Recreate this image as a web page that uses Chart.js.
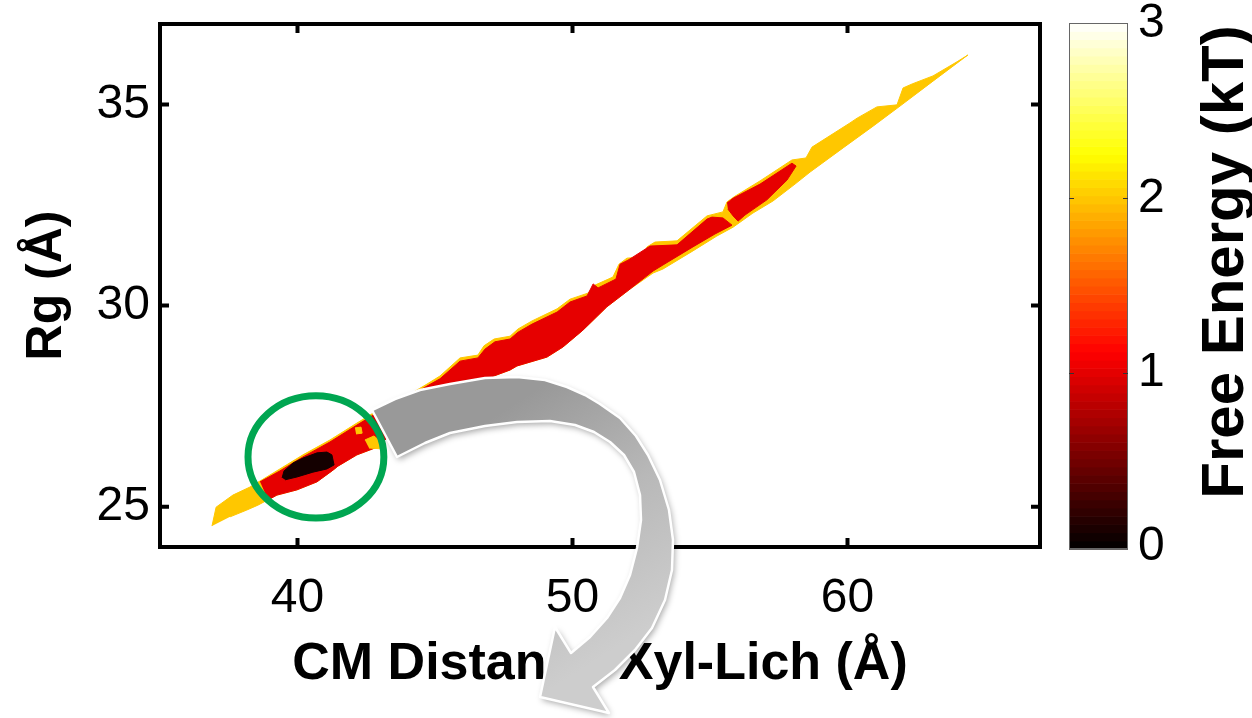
<!DOCTYPE html>
<html>
<head>
<meta charset="utf-8">
<script src="https://cdn.jsdelivr.net/npm/chart.js@4.4.1/dist/chart.umd.min.js"></script>
<style>
  html, body { margin: 0; padding: 0; background: #fff; }
  #wrap { width: 1252px; height: 718px; }
</style>
</head>
<body>
<div id="wrap"><canvas id="fesChart" width="1252" height="718"></canvas></div>
<script>
// axis ticks
const xTicks = [40, 50, 60];
const yTicks = [25, 30, 35];
const energyTicks = [0, 1, 2, 3];

// contour regions, [CM distance, Rg] pairs
// ~2 kT level (outer band)
const band2kT = [
  [36.89, 24.52], [37.04, 24.99], [37.65, 25.29], [38.27, 25.49], [38.71, 25.67],
  [39.36, 25.94], [40.20, 26.29], [41.18, 26.66], [42.16, 27.08], [42.71, 27.31],
  [43.73, 27.65], [44.71, 28.05], [45.18, 28.25], [45.91, 28.70], [46.56, 28.77],
  [46.78, 29.00], [47.15, 29.17], [47.73, 29.24], [48.02, 29.42], [48.53, 29.62],
  [49.44, 29.92], [49.91, 30.16], [50.56, 30.31], [50.82, 30.51], [51.47, 30.71],
  [51.69, 31.03], [51.98, 31.18], [52.56, 31.21], [52.71, 31.46], [53.00, 31.58],
  [53.80, 31.61], [54.89, 32.23], [55.47, 32.33], [55.62, 32.58], [55.91, 32.72],
  [56.82, 33.10], [57.98, 33.62], [58.49, 33.67], [58.71, 33.94], [60.09, 34.54],
  [60.35, 34.66], [61.07, 34.94], [61.80, 34.99], [62.02, 35.41], [62.35, 35.51],
  [63.11, 35.71], [63.98, 36.06], [64.38, 36.23],
  [63.11, 35.58], [61.91, 34.96], [60.93, 34.46], [59.84, 33.92], [58.64, 33.32],
  [58.09, 33.02], [57.29, 32.60], [56.56, 32.30], [55.84, 31.95], [55.25, 31.73],
  [54.38, 31.36], [53.29, 30.91], [52.93, 30.81], [52.09, 30.41], [51.25, 29.97],
  [50.38, 29.39], [49.65, 28.97], [49.07, 28.72], [47.98, 28.50], [47.73, 28.40],
  [46.27, 28.03], [45.18, 27.65], [43.73, 27.03], [42.93, 26.49], [42.16, 26.29],
  [41.47, 26.01], [41.29, 25.91], [40.71, 25.62], [39.98, 25.42], [39.25, 25.29],
  [38.56, 25.04], [38.16, 24.92], [37.55, 24.75]
];
// ~1 kT level, lower and upper pieces
const band1kT = [
  [38.64, 25.62], [39.36, 25.89], [40.20, 26.24], [41.18, 26.61], [42.16, 27.03],
  [42.71, 27.26], [43.73, 27.60], [44.71, 28.00], [45.18, 28.18], [45.91, 28.62],
  [46.56, 28.70], [46.82, 28.92], [47.18, 29.10], [47.73, 29.17], [48.02, 29.34],
  [48.53, 29.54], [49.44, 29.84], [49.91, 30.09], [50.53, 30.24], [50.75, 30.54],
  [50.93, 30.44], [51.58, 30.66], [51.73, 31.03], [52.02, 31.13], [52.82, 31.48],
  [53.80, 31.51], [54.89, 32.15], [55.07, 32.20], [55.47, 32.18], [55.80, 32.00],
  [55.18, 31.78], [54.38, 31.46], [53.29, 31.01], [52.93, 30.86], [52.09, 30.41],
  [51.25, 29.97], [50.38, 29.39], [49.65, 28.97], [49.07, 28.72], [47.98, 28.50],
  [47.73, 28.40], [46.27, 28.03], [45.18, 27.65], [43.73, 27.03], [42.93, 26.49],
  [42.16, 26.29], [41.47, 26.01], [41.29, 25.91], [40.71, 25.62], [39.98, 25.42],
  [39.25, 25.29], [38.93, 25.17]
];
const band1kTUpper = [
  [55.62, 32.55], [55.84, 32.67], [56.82, 33.02], [57.98, 33.54], [58.13, 33.47],
  [57.80, 33.12], [57.07, 32.63], [56.27, 32.25], [56.02, 32.10], [55.84, 32.23],
  [55.65, 32.40]
];
// small 2 kT islands inside the 1 kT band
const spot2kTa = [[42.09, 26.96], [42.31, 26.98], [42.35, 26.83], [42.13, 26.81]];
const spot2kTb = [[42.45, 26.66], [42.78, 26.76], [43.00, 26.63], [43.04, 26.44], [42.60, 26.46]];
// minimum (~0 kT)
const basin0kT = [
  [39.44, 25.72], [39.51, 25.89], [39.84, 26.09], [40.20, 26.21], [40.71, 26.34],
  [41.07, 26.36], [41.25, 26.29], [41.33, 26.04], [41.07, 25.94], [40.56, 25.86],
  [39.98, 25.74], [39.55, 25.67]
];

// highlighted basin (data units)
const basinMark = { x: 40.67, y: 26.24, rx: 2.47, ry: 1.52 };

const FONT = "'Liberation Sans', Arial, Helvetica, sans-serif";
Chart.defaults.font.family = FONT;
Chart.defaults.color = '#000';

function region(label, pts, color, order) {
  return {
    label: label,
    data: pts.map(p => ({ x: p[0], y: p[1] })),
    showLine: true,
    fill: 'shape',
    backgroundColor: color,
    borderColor: color,
    borderWidth: 1,
    pointRadius: 0,
    tension: 0,
    order: order
  };
}

// matlab "hot" colormap
function hot(t) {
  const r = Math.min(1, t / 0.375);
  const g = Math.min(1, Math.max(0, (t - 0.375) / 0.375));
  const b = Math.min(1, Math.max(0, (t - 0.75) / 0.25));
  return `rgb(${Math.round(r * 255)},${Math.round(g * 255)},${Math.round(b * 255)})`;
}

const decor = {
  id: 'decor',
  afterDraw(chart) {
    const ctx = chart.ctx;
    const { left, right, top, bottom } = chart.chartArea;
    const xs = chart.scales.x, ys = chart.scales.y, cb = chart.scales.cb;
    ctx.save();

    // box + inward ticks
    ctx.strokeStyle = '#000';
    ctx.lineWidth = 4;
    ctx.strokeRect(left, top, right - left, bottom - top);
    ctx.beginPath();
    xTicks.forEach(v => {
      const px = xs.getPixelForValue(v);
      ctx.moveTo(px, bottom); ctx.lineTo(px, bottom - 9);
      ctx.moveTo(px, top); ctx.lineTo(px, top + 9);
    });
    yTicks.forEach(v => {
      const py = ys.getPixelForValue(v);
      ctx.moveTo(left, py); ctx.lineTo(left + 9, py);
      ctx.moveTo(right, py); ctx.lineTo(right - 9, py);
    });
    ctx.stroke();

    // colorbar
    const cbL = right + 29, cbR = right + 88;
    const cbTop = cb.getPixelForValue(3) - 1, cbBot = cb.getPixelForValue(0) + 2;
    const n = 64, h = (cbBot - cbTop) / n;
    for (let i = 0; i < n; i++) {
      ctx.fillStyle = hot((i + 0.5) / n);
      ctx.fillRect(cbL, cbBot - (i + 1) * h, cbR - cbL, h + 0.6);
    }
    ctx.lineWidth = 1;
    ctx.strokeStyle = '#666';
    ctx.strokeRect(cbL + 0.5, cbTop + 0.5, cbR - cbL - 1, cbBot - cbTop - 1);
    ctx.strokeStyle = '#333';
    ctx.beginPath();
    [1, 2].forEach(v => {
      const py = Math.round(cb.getPixelForValue(v)) + 0.5;
      ctx.moveTo(cbL, py); ctx.lineTo(cbL + 5, py);
      ctx.moveTo(cbR, py); ctx.lineTo(cbR - 5, py);
    });
    ctx.stroke();

    // colorbar title
    ctx.save();
    ctx.translate(1243, (cbTop + cbBot) / 2 - 24);
    ctx.rotate(-Math.PI / 2);
    ctx.font = `bold 60px ${FONT}`;
    ctx.fillStyle = '#000';
    ctx.textAlign = 'center';
    ctx.textBaseline = 'alphabetic';
    ctx.fillText('Free Energy (kT)', 0, 0);
    ctx.restore();

    // green ring around the minimum
    const cx = xs.getPixelForValue(basinMark.x), cy = ys.getPixelForValue(basinMark.y);
    const rx = xs.getPixelForValue(basinMark.x + basinMark.rx) - cx;
    const ry = cy - ys.getPixelForValue(basinMark.y + basinMark.ry);
    ctx.beginPath();
    ctx.ellipse(cx, cy, rx, ry, 0, 0, Math.PI * 2);
    ctx.lineWidth = 7;
    ctx.strokeStyle = '#00A651';
    ctx.stroke();

    // curved callout arrow
    const outer = [[372,410],[395,399],[420,390],[450,384],[485,378],[517,377],[545,380],[567,387],
      [585,395],[600,404],[620,418],[636,436],[648,455],[660,480],[669,510],[673,540],[672,570],
      [665,600],[652,628],[635,650],[615,670],[593,687]];
    const head = [[609,713],[540,697],[555,627]];
    const inner = [[571,653],[590,637],[607,618],[620,598],[630,575],[637,548],[641,520],[640,495],
      [634,472],[624,455],[610,442],[594,432],[575,425],[550,421],[517,422],[485,426],[450,433],
      [425,443],[397,457]];
    ctx.beginPath();
    ctx.moveTo(outer[0][0], outer[0][1]);
    outer.slice(1).forEach(p => ctx.lineTo(p[0], p[1]));
    head.forEach(p => ctx.lineTo(p[0], p[1]));
    inner.forEach(p => ctx.lineTo(p[0], p[1]));
    ctx.closePath();
    const grad = ctx.createLinearGradient(520, 400, 660, 620);
    grad.addColorStop(0, '#999999');
    grad.addColorStop(0.5, '#b8b8b8');
    grad.addColorStop(1, '#cdcdcd');
    ctx.shadowColor = 'rgba(0,0,0,0.35)';
    ctx.shadowBlur = 6;
    ctx.shadowOffsetX = 2;
    ctx.shadowOffsetY = 3;
    ctx.fillStyle = grad;
    ctx.fill();
    ctx.shadowColor = 'transparent';
    ctx.lineJoin = 'round';
    ctx.lineWidth = 2.5;
    ctx.strokeStyle = '#ffffff';
    ctx.stroke();

    ctx.restore();
  }
};

// vertical axes: keep the label overhang from pushing the plot down
function fixVertical(width) {
  return s => { s.width = width; s.paddingTop = 0; s.paddingBottom = 0; };
}

new Chart(document.getElementById('fesChart').getContext('2d'), {
  type: 'scatter',
  data: {
    datasets: [
      region('0 kT', basin0kT, '#140000', 1),
      region('2 kT spot a', spot2kTa, '#FFC700', 2),
      region('2 kT spot b', spot2kTb, '#FFC700', 2),
      region('1 kT', band1kT, '#E60000', 3),
      region('1 kT upper', band1kTUpper, '#E60000', 3),
      region('2 kT', band2kT, '#FFC700', 4)
    ]
  },
  options: {
    responsive: false,
    devicePixelRatio: 1,
    animation: false,
    layout: { padding: { top: 24, left: 0, right: 0, bottom: 0 } },
    plugins: { legend: { display: false }, tooltip: { enabled: false } },
    scales: {
      x: {
        type: 'linear', position: 'bottom', min: 35, max: 67,
        afterBuildTicks: s => { s.ticks = xTicks.map(v => ({ value: v })); },
        afterFit: s => { s.height = 171; s.paddingLeft = 0; s.paddingRight = 0; },
        grid: { display: false, drawTicks: false },
        border: { display: false },
        ticks: { font: { size: 48 }, color: '#000', padding: 23, maxRotation: 0, autoSkip: false },
        title: { display: true, text: 'CM Distance Xyl-Lich (Å)', color: '#000',
                 font: { size: 52, weight: 'bold' }, padding: { top: 0, bottom: 22 } }
      },
      y: {
        type: 'linear', position: 'left', min: 24, max: 37,
        afterBuildTicks: s => { s.ticks = yTicks.map(v => ({ value: v })); },
        afterFit: fixVertical(160),
        grid: { display: false, drawTicks: false },
        border: { display: false },
        ticks: { font: { size: 48 }, color: '#000', padding: 10 },
        title: { display: true, text: 'Rg (Å)', color: '#000',
                 font: { size: 50, weight: 'bold' }, padding: { top: 17, bottom: 0 } }
      },
      cb: {
        type: 'linear', position: 'right', min: 0, max: 3,
        afterBuildTicks: s => { s.ticks = energyTicks.map(v => ({ value: v })); },
        afterFit: fixVertical(212),
        grid: { display: false, drawTicks: false },
        border: { display: false },
        ticks: { font: { size: 48 }, color: '#000', padding: 98 }
      }
    }
  },
  plugins: [decor]
});
</script>
</body>
</html>
